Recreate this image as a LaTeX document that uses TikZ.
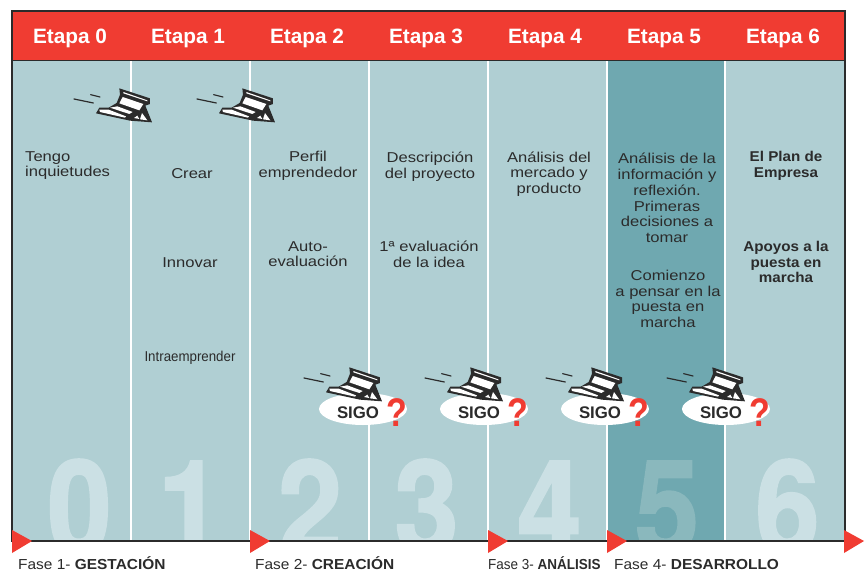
\documentclass[tikz,border=0pt]{standalone}
\usepackage{fontspec}
\usetikzlibrary{shapes.geometric}
\setmainfont{Liberation Sans}
\newfontfamily\widefont[FakeStretch=1.16]{Liberation Sans}
\newfontfamily\narrowfont[FakeStretch=0.93]{Liberation Sans}
\newfontfamily\faseFont[FakeStretch=1.065]{Liberation Sans}
\newfontfamily\wideboldfont[FakeStretch=1.07]{Liberation Sans Bold}
\newfontfamily\digitfont[FakeStretch=0.88,FakeBold=1.5]{TeX Gyre Heros Bold}
\newfontfamily\questfont[FakeStretch=0.85]{Liberation Sans Bold}
\definecolor{colbg}{HTML}{B0CFD3}
\definecolor{coldark}{HTML}{6FA8B0}
\definecolor{redhead}{HTML}{F03C32}
\definecolor{inkdark}{HTML}{2B2B2B}
\definecolor{numlight}{HTML}{CBE0E4}
\definecolor{numdark}{HTML}{8AB8BD}
\tikzset{
  x=1pt,y=-1pt,
  coltext/.style={font=\widefont\fontsize{14.3}{15.7}\selectfont,text=inkdark,align=center,inner sep=0pt},
  colbold/.style={font=\wideboldfont\fontsize{14.2}{15.7}\selectfont,text=inkdark,align=center,inner sep=0pt},
  headtext/.style={font=\bfseries\fontsize{20.8}{22}\selectfont,text=white,inner sep=0pt,anchor=base},
  bignum/.style={font=\digitfont\fontsize{131}{131}\selectfont,inner sep=0pt,anchor=base},
  sigotext/.style={font=\bfseries\fontsize{16.8}{18}\selectfont,text=inkdark,inner sep=0pt},
  qmark/.style={font=\questfont\fontsize{40}{40}\selectfont,text=redhead,inner sep=0pt},
  fasetext/.style={font=\faseFont\fontsize{14.5}{16}\selectfont,text=inkdark,inner sep=0pt,anchor=base west},
  phasemark/.style={fill=redhead,draw=none},
  plane/.pic={
    \begin{scope}[x=0.3333pt,y=-0.3333pt,shift={(-42,-58)}]
      \draw[inkdark,line width=1.2pt,line cap=round] (42,58) -- (100,70);
      \draw[inkdark,line width=1.2pt,line cap=round] (92,45) -- (120,52);
      \fill[inkdark] (178,26) -- (270,56) -- (270,73) -- (256,78) -- (276,128) -- (210,123) -- (108,101) -- (118,84) -- (146,84) -- (170,70) -- (180,45) -- cycle;
      \fill[white] (190,37) -- (262,62) -- (262,65) -- (190,41) -- cycle;
      \fill[white] (188,52) -- (250,73) -- (238,92) -- (178,71) -- cycle;
      \fill[white] (118,90) -- (146,90) -- (198,110) -- (195,114) -- (120,97) -- cycle;
      \fill[white] (150,84) -- (172,80) -- (218,97) -- (208,103) -- cycle;
      \fill[white] (246,100) -- (262,122) -- (240,119) -- cycle;
      \fill[white] (232,108) -- (238,118) -- (222,115) -- cycle;
    \end{scope}
  }
}
\begin{document}
\begin{tikzpicture}
\useasboundingbox (0,0) rectangle (866,572);
% columns
\fill[colbg] (12,61) rectangle (845,541);
\fill[coldark] (607,61) rectangle (725,541);
% big numerals
\begin{scope}
  \clip (12,61) rectangle (845,541);
  \node[bignum,text=numlight] (n0) at (79.5,554) {0};
  \node[bignum,text=numlight] (n1) at (190,554) {1};
  \node[bignum,text=numlight] (n2) at (310,554) {2};
  \node[bignum,text=numlight] (n3) at (426.5,554) {3};
  \node[bignum,text=numlight] (n4) at (549.5,554) {4};
  \node[bignum,text=numdark] (n5) at (667,554) {5};
  \node[bignum,text=numlight] (n6) at (787.5,554) {6};
\end{scope}
% column separators
\foreach \cx in {131,250,369,488,607,725}
  \draw[white,line width=1.3pt] (\cx,61) -- (\cx,541);
% header
\fill[redhead] (12,11) rectangle (845,61);
\draw[inkdark,line width=1.5pt] (12,541) -- (12,11) -- (845,11) -- (845,541) -- cycle;
\draw[inkdark,line width=1pt] (12,61) -- (845,61);
\node[headtext] (e0) at (70,44) {Etapa 0};
\node[headtext] (e1) at (188,44) {Etapa 1};
\node[headtext] (e2) at (307,44) {Etapa 2};
\node[headtext] (e3) at (426,44) {Etapa 3};
\node[headtext] (e4) at (545,44) {Etapa 4};
\node[headtext] (e5) at (664,44) {Etapa 5};
\node[headtext] (e6) at (783,44) {Etapa 6};
% planes
\pic at (74,99) {plane};
\pic at (197,99) {plane};
% column text
\node[coltext,align=left,anchor=north west] (t0) at (25,151) {Tengo\\inquietudes};
\node[coltext] (t1a) at (192,174) {Crear};
\node[coltext] (t1b) at (190,263) {Innovar};
\node[font=\narrowfont\fontsize{14.3}{16}\selectfont,text=inkdark,inner sep=0pt] (t1c) at (190,358) {Intraemprender};
\node[coltext] (t2a) at (308,166) {Perfil\\emprendedor};
\node[coltext] (t2b) at (308,254) {Auto-\\evaluación};
\node[coltext] (t3a) at (430,167) {Descripción\\del proyecto};
\node[coltext] (t3b) at (429,254) {1ª evaluación\\de la idea};
\node[coltext] (t4a) at (549,174) {Análisis del\\mercado y\\producto};
\node[coltext] (t5a) at (667,198) {Análisis de la\\información y\\reflexión.\\Primeras\\decisiones a\\tomar};
\node[coltext] (t5b) at (668,299) {Comienzo\\a pensar en la\\puesta en\\marcha};
\node[colbold] (t6a) at (786,166) {El Plan de\\Empresa};
\node[colbold] (t6b) at (786,262) {Apoyos a la\\puesta en\\marcha};
% SIGO groups
\foreach \sx/\sid in {0/a,121/b,242/c,363/d}{
  \node[ellipse,fill=white,minimum width=88pt,minimum height=32pt,inner sep=0pt] (el\sid) at ({363+\sx},409) {};
  \pic at ({304+\sx},378) {plane};
  \node[sigotext] (si\sid) at ({358+\sx},413) {SIGO};
  \node[qmark] (qm\sid) at ({397+\sx},413) {?};
}
% phase markers
\foreach \mx in {12,250,488,607,844}
  \fill[phasemark] (\mx,530) -- (\mx,553) -- ({\mx+20},541) -- cycle;
% phase labels
\node[fasetext] (f1) at (18,569) {Fase 1- \textbf{GESTACIÓN}};
\node[fasetext] (f2) at (255,569) {Fase 2- \textbf{CREACIÓN}};
\node[fasetext,font=\narrowfont\fontsize{14.5}{16}\selectfont] (f3) at (488,569) {Fase 3- \textbf{ANÁLISIS}};
\node[fasetext] (f4) at (614,569) {Fase 4- \textbf{DESARROLLO}};
\end{tikzpicture}
\end{document}
